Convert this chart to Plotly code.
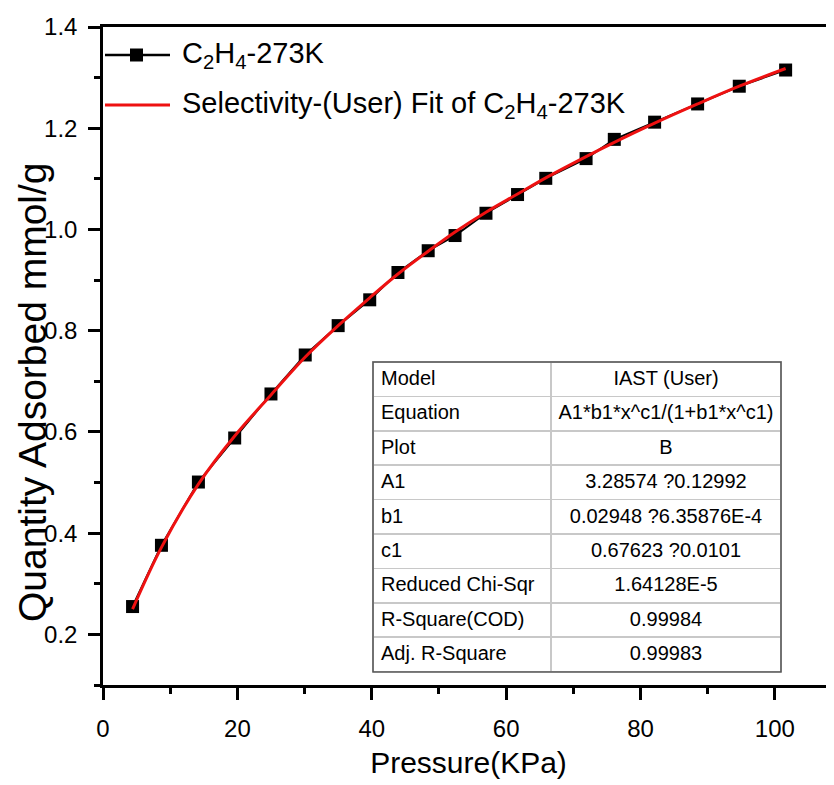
import plotly.graph_objects as go

# ---- data ----
pressure = [4.4, 8.7, 14.2, 19.6, 25.0, 30.1, 35.0, 39.7, 43.9, 48.4,
            52.4, 57.0, 61.7, 65.9, 71.9, 76.1, 82.1, 88.5, 94.7, 101.6]
adsorbed = [0.255, 0.376, 0.501, 0.588, 0.675, 0.752, 0.810, 0.861, 0.915, 0.958,
            0.988, 1.032, 1.069, 1.101, 1.140, 1.178, 1.212, 1.248, 1.283, 1.315]
fit_x = [4.4, 8.7, 14.2, 19.6, 25.0, 30.1, 35.0, 39.7, 43.9, 48.4,
         52.4, 57.0, 61.7, 65.9, 71.9, 76.1, 82.1, 88.5, 94.7, 101.6]
fit_y = [0.250, 0.372, 0.497, 0.592, 0.673, 0.748, 0.810, 0.865, 0.912, 0.957,
         0.995, 1.034, 1.070, 1.102, 1.144, 1.172, 1.210, 1.248, 1.283, 1.318]

table_keys = ["Equation", "Plot", "A1", "b1", "c1", "Reduced Chi-Sqr",
              "R-Square(COD)", "Adj. R-Square"]
table_vals = ["A1*b1*x^c1/(1+b1*x^c1)", "B", "3.28574 ?0.12992",
              "0.02948 ?6.35876E-4", "0.67623 ?0.0101", "1.64128E-5",
              "0.99984", "0.99983"]
table_head = ["Model", "IAST (User)"]

legend_data = "C<sub>2</sub>H<sub>4</sub>-273K"
legend_fit = "Selectivity-(User) Fit of C<sub>2</sub>H<sub>4</sub>-273K"

FONT = "Liberation Sans, Arial, sans-serif"
OFF = 8  # page body margin of the html page
W, H = 834 - OFF, 785 - OFF
ML, MT = 103 - OFF, 27 - OFF
MR = 0
MB = H - (685 - OFF)
PW, PH = W - ML - MR, H - MT - MB


def px(x):
    return (x - OFF - ML) / PW


def py(y):
    return 1 - (y - OFF - MT) / PH


fig = go.Figure()
fig.add_trace(go.Scatter(x=pressure, y=adsorbed, mode="lines+markers",
                         line=dict(color="black", width=2),
                         marker=dict(symbol="square", size=13, color="black"),
                         showlegend=False, cliponaxis=False))
fig.add_trace(go.Scatter(x=fit_x, y=fit_y, mode="lines",
                         line=dict(color="#ee1111", width=3, shape="spline"),
                         showlegend=False))

fig.add_trace(go.Table(
    domain=dict(x=[px(373), px(781)], y=[py(672), py(362)]),
    columnwidth=[178, 230],
    header=dict(values=table_head, height=34.4,
                align=["left", "center"],
                fill_color="white",
                line=dict(color="#c8c8c8", width=1.5),
                font=dict(family=FONT, size=20, color="black")),
    cells=dict(values=[table_keys, table_vals], height=34.4,
               align=["left", "center"],
               fill_color="white",
               line=dict(color="#c8c8c8", width=1.5),
               font=dict(family=FONT, size=20, color="black")),
))

shapes = [
    dict(type="rect", xref="paper", yref="paper",
         x0=px(373), x1=px(781), y0=py(672), y1=py(362),
         line=dict(color="#555555", width=1.5)),
    dict(type="line", xref="paper", yref="paper",
         x0=px(105), x1=px(170), y0=py(55), y1=py(55),
         line=dict(color="black", width=2.5)),
    dict(type="rect", xref="paper", yref="paper",
         x0=px(130), x1=px(143), y0=py(61.5), y1=py(48.5),
         line=dict(color="black", width=0), fillcolor="black"),
    dict(type="line", xref="paper", yref="paper",
         x0=px(105), x1=px(170), y0=py(105), y1=py(105),
         line=dict(color="#ee1111", width=3)),
]

annotations = [
    dict(text=legend_data, xref="paper", yref="paper", x=px(180), y=py(55),
         xanchor="left", yanchor="middle", showarrow=False,
         font=dict(family=FONT, size=29, color="black")),
    dict(text=legend_fit, xref="paper", yref="paper", x=px(180), y=py(105),
         xanchor="left", yanchor="middle", showarrow=False,
         font=dict(family=FONT, size=29, color="black")),
    dict(text="Quantity Adsorbed mmol/g", xref="paper", yref="paper",
         x=px(33), y=py(392), textangle=-90, xanchor="center", yanchor="middle",
         showarrow=False, font=dict(family=FONT, size=39, color="black")),
]

fig.update_layout(
    width=W, height=H,
    margin=dict(l=ML, r=MR, t=MT, b=MB, pad=0),
    paper_bgcolor="white", plot_bgcolor="white",
    font=dict(family=FONT, color="black"),
    showlegend=False,
    shapes=shapes, annotations=annotations,
)
fig.update_xaxes(range=[0, 108.8], showgrid=False, zeroline=False,
                 showline=True, linecolor="black", linewidth=2.5, mirror=True,
                 ticks="outside", ticklen=12, tickwidth=2.5, tickcolor="black",
                 tick0=0, dtick=20,
                 minor=dict(ticks="outside", ticklen=6, tickwidth=2.5,
                            tickcolor="black", dtick=10, showgrid=False),
                 tickfont=dict(family=FONT, size=24, color="black"),
                 ticklabelstandoff=8,
                 title=dict(text="Pressure(KPa)",
                            font=dict(family=FONT, size=30, color="black"),
                            standoff=12))
fig.update_yaxes(range=[0.1, 1.4], showgrid=False, zeroline=False,
                 showline=True, linecolor="black", linewidth=2.5, mirror=False,
                 ticks="outside", ticklen=12, tickwidth=2.5, tickcolor="black",
                 tick0=0.2, dtick=0.2, tickformat=".1f",
                 minor=dict(ticks="outside", ticklen=6, tickwidth=2.5,
                            tickcolor="black", dtick=0.1, showgrid=False),
                 tickfont=dict(family=FONT, size=24, color="black"),
                 ticklabelstandoff=6)

fig.write_html("out.html")
